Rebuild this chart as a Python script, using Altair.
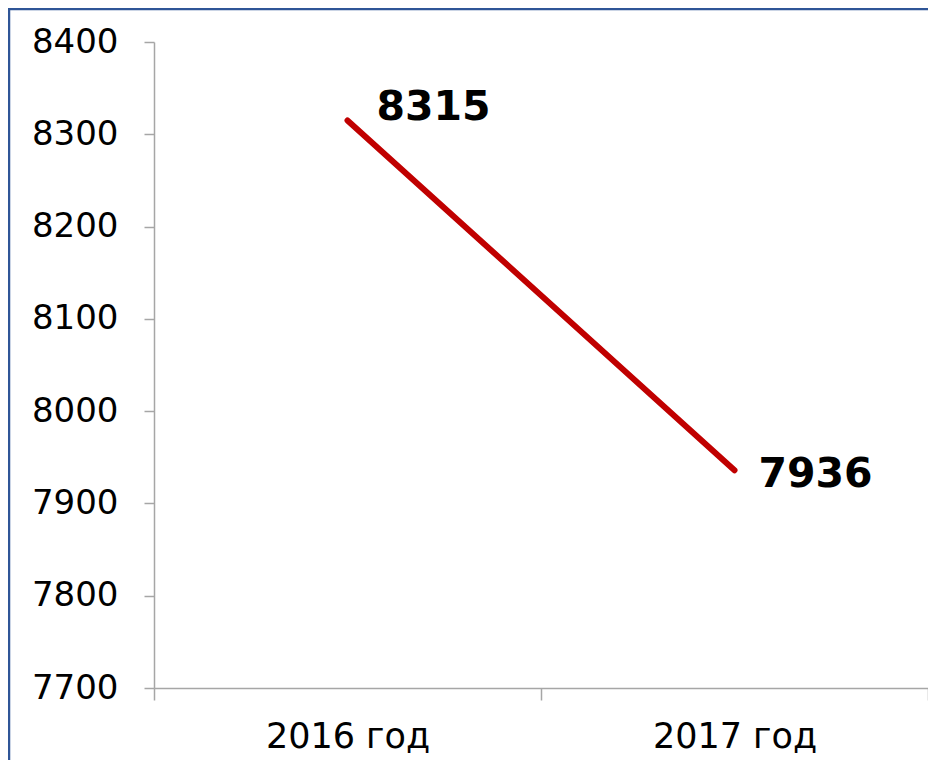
import altair as alt
import pandas as pd

years = ["2016 год", "2017 год"]
values = [8315, 7936]
y_ticks = [7700, 7800, 7900, 8000, 8100, 8200, 8300, 8400]

df = pd.DataFrame({"year": years, "value": values})

FONT = "DejaVu Sans"

x_enc = alt.X(
    "year:N",
    sort=years,
    scale=alt.Scale(type="band", paddingInner=0, paddingOuter=0),
    axis=alt.Axis(
        title=None, labelAngle=0, tickBand="extent", domainColor="#a6a6a6",
        tickColor="#a6a6a6", tickSize=12, labelFont=FONT, labelFontSize=35,
        labelColor="#000000", labelPadding=19, grid=False, domainWidth=1.5, tickWidth=1.5,
    ),
)
y_enc = alt.Y(
    "value:Q",
    scale=alt.Scale(domain=[7700, 8400], nice=False, zero=False),
    axis=alt.Axis(
        title=None, values=y_ticks, format="d", domainColor="#a6a6a6", tickColor="#a6a6a6",
        tickSize=10, labelFont=FONT, labelFontSize=34, labelColor="#000000",
        labelPadding=26, grid=False, domainWidth=1.5, tickWidth=1.5,
    ),
)

base = alt.Chart(df)

line = base.mark_line(color="#c00000", strokeWidth=6, strokeCap="round").encode(x=x_enc, y=y_enc)

lab1 = base.transform_filter(alt.datum.year == years[0]).mark_text(
    font=FONT, fontSize=41, fontWeight="bold", align="left", baseline="alphabetic",
    dx=29, dy=0, color="#000000",
).encode(x=alt.X("year:N", sort=years), y="value:Q", text=alt.Text("value:Q", format="d"))

lab2 = base.transform_filter(alt.datum.year == years[1]).mark_text(
    font=FONT, fontSize=41, fontWeight="bold", align="left", baseline="alphabetic",
    dx=24, dy=17, color="#000000",
).encode(x=alt.X("year:N", sort=years), y="value:Q", text=alt.Text("value:Q", format="d"))

frame = alt.Chart(pd.DataFrame({"a": [0]})).mark_rect(
    filled=False, stroke="#2f5597", strokeWidth=2.5
).encode(
    x=alt.value(-145), x2=alt.value(1400), y=alt.value(-33), y2=alt.value(1400)
)

chart = alt.layer(frame, line, lab1, lab2).properties(
    width=774, height=646,
    autosize=alt.AutoSizeParams(type="none"),
    padding={"left": 146, "top": 34, "right": 0, "bottom": 72},
).configure(background="#ffffff").configure_view(stroke=None, strokeWidth=0)

chart.save("out.html", embed_options={"renderer": "svg", "actions": False})
